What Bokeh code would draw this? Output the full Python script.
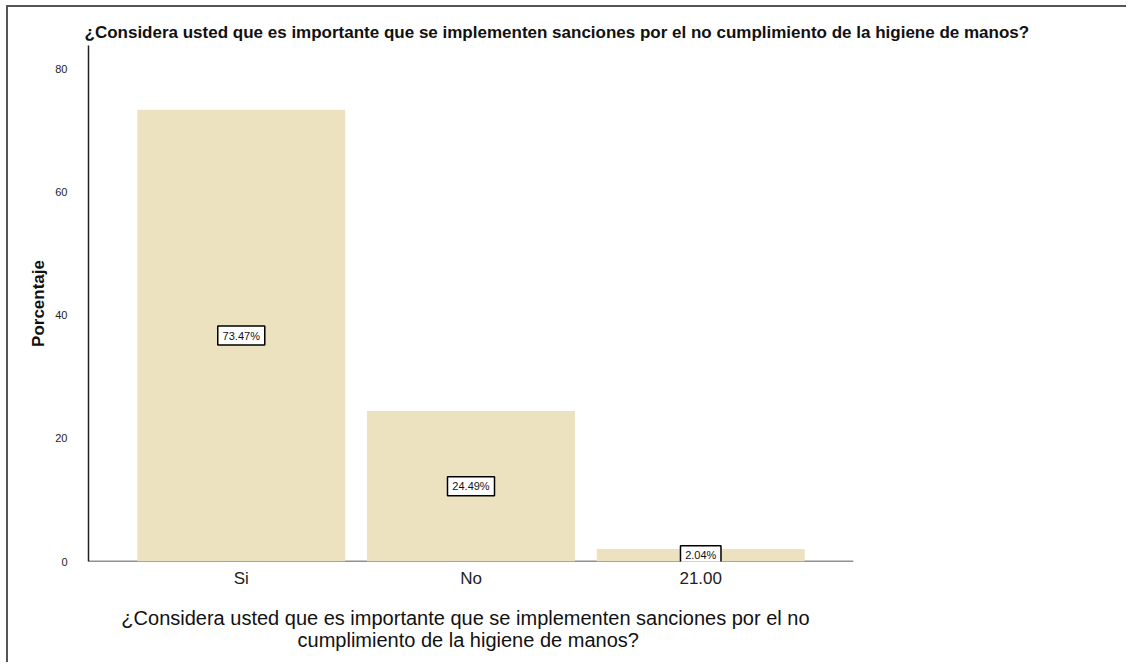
from bokeh.plotting import figure
from bokeh.models import ColumnDataSource, Title, FactorRange, Range1d, FixedTicker, Span
from bokeh.core.properties import value
from bokeh.embed import file_html
from bokeh.resources import INLINE

categories = ["Si", "No", "21.00"]
percentages = [73.47, 24.49, 2.04]
bar_labels = ["73.47%", "24.49%", "2.04%"]
y_ticks = [0, 20, 40, 60, 80]
title_text = "¿Considera usted que es  importante que se implementen  sanciones por el no cumplimiento de  la higiene de manos?"
xlabel_text = "¿Considera usted que es  importante que se implementen  sanciones por el no\ncumplimiento de  la higiene de manos?"
ylabel_text = "Porcentaje"

FONT = "Liberation Sans"

src = ColumnDataSource(dict(cat=categories, pct=percentages,
                            mid=[v / 2 for v in percentages], lab=bar_labels,
                            boxw=[6.5 * len(s) + 8 for s in bar_labels]))

p = figure(width=1120, height=657, output_backend="svg", toolbar_location=None,
           x_range=FactorRange(*categories, range_padding=0.11, factor_padding=0.0),
           y_range=Range1d(0, 83.9),
           min_border_left=80, min_border_right=275, min_border_top=38, min_border_bottom=103)
p.styles = {"margin-left": "6px", "margin-top": "5px",
            "border-left": "2px solid #555555", "border-top": "2px solid #555555"}
p.outline_line_color = None
p.xgrid.grid_line_color = None
p.ygrid.grid_line_color = None

p.add_layout(Span(location=0, dimension="width", line_color="#222222", line_width=1.5, level="underlay"))

p.vbar(x="cat", top="pct", width=0.905, source=src, fill_color="#ece2c0", line_color=None)

p.rect(x="cat", y="mid", width="boxw", height=19, width_units="screen", height_units="screen",
       source=src, fill_color="white", line_color="black", line_width=1.5)
p.text(x="cat", y="mid", text="lab", source=src, text_align="center", text_baseline="middle",
       text_font=value(FONT), text_font_size="11px", text_color="#111111")

p.yaxis.ticker = FixedTicker(ticks=y_ticks)
p.yaxis.major_tick_line_color = None
p.yaxis.minor_tick_line_color = None
p.yaxis.axis_line_color = "#222222"
p.yaxis.axis_line_width = 1.5
p.yaxis.major_label_text_font = FONT
p.yaxis.major_label_text_font_size = "11px"
p.yaxis.major_label_text_color = "#222222"
p.yaxis.major_label_standoff = 15
p.yaxis.axis_label = ylabel_text
p.yaxis.axis_label_text_font = FONT
p.yaxis.axis_label_text_font_style = "bold"
p.yaxis.axis_label_text_font_size = "17px"
p.yaxis.axis_label_text_color = "#111111"
p.yaxis.axis_label_standoff = 4

p.xaxis.major_tick_line_color = None
p.xaxis.minor_tick_line_color = None
p.xaxis.axis_line_color = None
p.xaxis.major_label_text_font = FONT
p.xaxis.major_label_text_font_size = "17px"
p.xaxis.major_label_text_color = "#222222"
p.xaxis.major_label_standoff = 1
p.xaxis.axis_label = xlabel_text
p.xaxis.axis_label_text_font = FONT
p.xaxis.axis_label_text_font_style = "normal"
p.xaxis.axis_label_text_font_size = "20px"
p.xaxis.axis_label_text_line_height = 1.0
p.xaxis.axis_label_text_color = "#111111"
p.xaxis.axis_label_standoff = 16

p.add_layout(Title(text=title_text, align="left", offset=-4, text_font=FONT,
                   text_font_size="17px", text_font_style="bold", text_color="#111111",
                   standoff=7), "above")

open("out.html", "w").write(file_html(p, INLINE))
